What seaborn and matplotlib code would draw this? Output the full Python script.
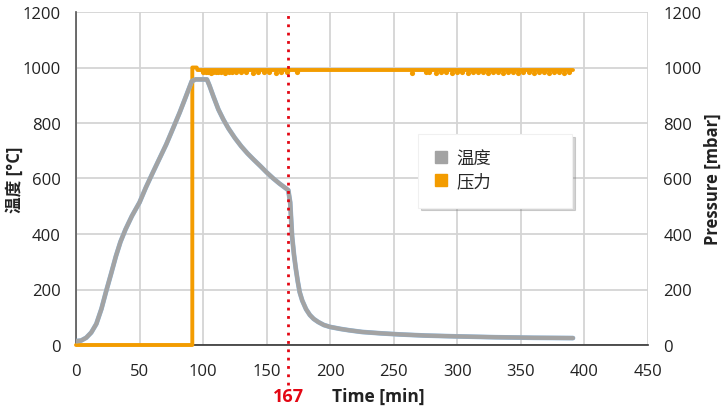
import matplotlib
matplotlib.use("Agg")
import matplotlib.pyplot as plt
import seaborn as sns
import pandas as pd
from matplotlib.lines import Line2D

# ---- data ----
temp_time = [0, 4, 8, 12, 16, 20, 23.5, 27.5, 31.4, 35, 39, 44, 50, 55, 60.5, 66, 71, 76,
             81.6, 86, 91, 94, 103, 105, 108, 112, 116, 120, 125, 130, 135, 140, 145, 150,
             155, 160, 167, 168.5, 170, 171.5, 173, 174.5, 176, 178, 181, 184, 187, 190.5,
             195, 200, 208, 215, 225, 240, 255, 275, 300, 330, 360, 391]
temp_vals = [14, 16, 26, 45, 76, 130, 190, 255, 320, 372, 417, 465, 514, 568, 622, 675, 723,
             777, 838, 890, 950, 957, 957, 935, 897, 849, 812, 780, 746, 716, 690, 667, 645,
             622, 601, 582, 558, 514, 392, 325, 273, 228, 190, 160, 129, 108, 94, 83,
             72, 65, 58, 53, 47, 42, 38, 34, 31, 28, 26, 25]

press_time = [0, 91.5, 91.5, 95, 95.5, 391]
press_vals = [0, 0, 1000, 1000, 991, 991]
dip_times = [100, 102, 104, 106, 108, 110, 112, 114, 117, 120, 123, 126, 130, 134, 139, 143,
             148, 152, 157, 161, 166, 174, 264, 275, 278, 283, 287, 291, 296, 300, 304, 308,
             312, 316, 320, 324, 328, 332, 336, 340, 344, 348, 352, 356, 360, 364, 368, 372,
             376, 380, 384, 388]
dip_vals = [982, 983, 982, 981, 983, 982, 983, 982, 981, 983, 982, 983, 982, 983, 981,
            983, 982, 983, 981, 982, 983, 982, 981, 983, 982, 981, 983, 982, 981, 982, 983,
            981, 982, 983, 982, 981, 983, 982, 981, 982, 983, 981, 982, 983, 981, 982, 983,
            981, 982, 983, 981, 982]

marker_time = 167
x_ticks = [0, 50, 100, 150, 200, 250, 300, 350, 400, 450]
y_ticks = [0, 200, 400, 600, 800, 1000, 1200]

df_t = pd.DataFrame({"Time": temp_time, "Value": temp_vals})
df_p = pd.DataFrame({"Time": press_time, "Value": press_vals})
df_d = pd.DataFrame({"Time": dip_times, "Value": dip_vals})

sns.set_style("white")
plt.rcParams["font.family"] = ["Open Sans", "Noto Sans CJK SC", "DejaVu Sans"]

W, H = 721, 410
L, R, T, B = 76, 648, 13, 346
fig = plt.figure(figsize=(W / 100, H / 100), dpi=100)
ax = fig.add_axes([L / W, 1 - B / H, (R - L) / W, (B - T) / H])

grey = "#a3a3a3"
orange = "#f39c00"
red = "#e30613"
txt = "#222222"

sns.lineplot(data=df_p, x="Time", y="Value", ax=ax, color=orange, lw=2.8, sort=False,
             estimator=None, zorder=3, clip_on=False)
sns.scatterplot(data=df_d, x="Time", y="Value", ax=ax, color=orange, s=14, linewidth=0,
                zorder=3)
sns.lineplot(data=df_t, x="Time", y="Value", ax=ax, color="#8fb8dd", lw=3.4, sort=False,
             estimator=None, zorder=3.5)
sns.lineplot(data=df_t, x="Time", y="Value", ax=ax, color=grey, lw=3.0, sort=False,
             estimator=None, zorder=4)

ax.set_xlim(0, 450)
ax.set_ylim(0, 1200)
ax.set_xticks(x_ticks)
ax.set_yticks(y_ticks)
ax.grid(True, color="#d4d4d4", lw=1.3)
ax.set_axisbelow(True)
for s in ["top", "right"]:
    ax.spines[s].set_visible(False)
ax.spines["left"].set_color("#555555")
ax.spines["bottom"].set_color("#333333")
ax.spines["left"].set_linewidth(1.2)
ax.spines["bottom"].set_linewidth(1.2)
ax.tick_params(axis="both", length=0, labelsize=12, colors=txt, pad=11)
ax.tick_params(axis="x", pad=13)
ax.set_xlabel("")
ax.set_ylabel("温度 [°C]", fontsize=12, fontweight="bold", color=txt)
ax.yaxis.set_label_coords((24 - L) / (R - L), 0.5)

ax2 = ax.twinx()
ax2.set_ylim(0, 1200)
ax2.set_yticks(y_ticks)
ax2.tick_params(axis="y", length=0, labelsize=12, colors=txt, pad=11)
for s in ["top", "right", "left", "bottom"]:
    ax2.spines[s].set_visible(False)
ax2.set_ylabel("Pressure [mbar]", fontsize=12, fontweight="bold", color=txt)
ax2.yaxis.set_label_coords((704 - L) / (R - L), 0.5)

# red marker line
ax.axvline(marker_time, ymin=-0.12, ymax=1.0, color=red, ls=(0, (1, 2)), lw=2,
           clip_on=False, zorder=5)
ax.text(marker_time, -0.152, str(marker_time), transform=ax.get_xaxis_transform(),
        ha="center", va="center", color=red, fontsize=13, fontweight="bold")
ax.text(238, -0.152, "Time [min]", transform=ax.get_xaxis_transform(), ha="center",
        va="center", color=txt, fontsize=12.5, fontweight="bold")

# legend
handles = [Line2D([], [], ls="none", marker="s", ms=9, color=grey),
           Line2D([], [], ls="none", marker="s", ms=9, color=orange)]
x0 = (418 - L) / (R - L)
wid = (572 - 418) / (R - L)
ytop = (B - 135) / (B - T)
leg = ax.legend(handles, ["温度", "压力"], loc="upper left",
                bbox_to_anchor=(x0, ytop - 0.2, wid, 0.2), mode="expand",
                frameon=True, shadow={"color": "#777777", "alpha": 0.3}, fancybox=False,
                fontsize=12.5, borderpad=1.0, labelspacing=0.35, handletextpad=0.6,
                handlelength=0.6, borderaxespad=0)
leg.get_frame().set_edgecolor("#f0f0f0")
leg.get_frame().set_linewidth(0.8)
leg.set_zorder(10)

fig.savefig("out.png", dpi=100)
